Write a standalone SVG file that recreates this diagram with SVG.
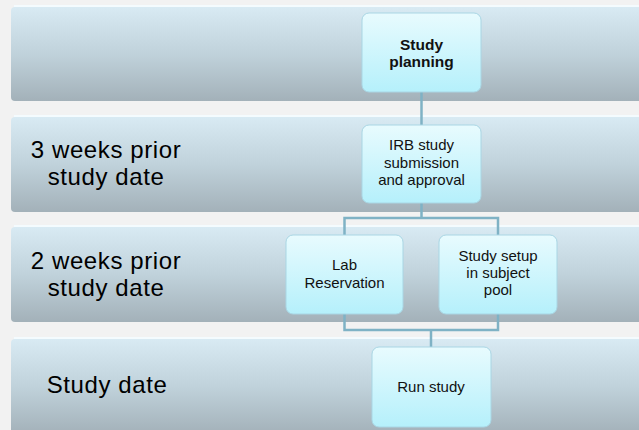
<svg xmlns="http://www.w3.org/2000/svg" width="639" height="430" viewBox="0 0 639 430">
<defs>
<linearGradient id="lane" x1="0" y1="0" x2="0" y2="1">
<stop offset="0" stop-color="#d8eaf3"/>
<stop offset="0.5" stop-color="#c0d2db"/>
<stop offset="1" stop-color="#a3b1b9"/>
</linearGradient>
<linearGradient id="node" x1="0" y1="0" x2="0" y2="1">
<stop offset="0" stop-color="#e8fbfe"/>
<stop offset="1" stop-color="#b5f0fb"/>
</linearGradient>
<style>
.lane{fill:url(#lane);}
.hl{fill:none;stroke:#f4fbfe;stroke-width:2;}
.box{fill:url(#node);stroke:#a9d6e4;stroke-width:1;}
.lbl{font-family:"Liberation Sans",Arial,sans-serif;font-size:24px;letter-spacing:0.6px;fill:#000;text-anchor:middle;}
.t{font-family:"Liberation Sans",Arial,sans-serif;font-size:15px;fill:#111;text-anchor:middle;}
.b{font-weight:bold;font-size:15.5px;}
.con{fill:none;stroke:#7fb2c5;stroke-width:2.5;}
</style>
</defs>
<rect width="639" height="430" fill="#f2f2f2"/>
<g id="lanes">
<g id="lane1"><rect class="lane" x="11" y="7" width="640" height="94" rx="4"/><line class="hl" x1="14" y1="6" x2="639" y2="6"/></g>
<g id="lane2"><rect class="lane" x="11" y="117" width="640" height="95" rx="4"/><line class="hl" x1="14" y1="116" x2="639" y2="116"/>
<text class="lbl" x="106" y="158">3 weeks prior</text><text class="lbl" x="106" y="185">study date</text></g>
<g id="lane3"><rect class="lane" x="11" y="227" width="640" height="95" rx="4"/><line class="hl" x1="14" y1="226" x2="639" y2="226"/>
<text class="lbl" x="106" y="269">2 weeks prior</text><text class="lbl" x="106" y="296">study date</text></g>
<g id="lane4"><rect class="lane" x="11" y="339" width="640" height="95" rx="4"/><line class="hl" x1="14" y1="338" x2="639" y2="338"/>
<text class="lbl" x="107" y="393">Study date</text></g>
</g>
<g id="connectors">
<path class="con" d="M421.5 92 V125"/>
<path class="con" d="M421.5 203 V218 M344.5 235 V218 H498 V235"/>
<path class="con" d="M344.5 314 V330 H498 V314 M431 330 V347"/>
</g>
<g id="n-planning"><rect class="box" x="362" y="13" width="119" height="79" rx="7"/>
<text class="t b" x="421.5" y="50">Study</text><text class="t b" x="421.5" y="67">planning</text></g>
<g id="n-irb"><rect class="box" x="362" y="125" width="119" height="78" rx="7"/>
<text class="t" x="421.5" y="150">IRB study</text><text class="t" x="421.5" y="168">submission</text><text class="t" x="421.5" y="185">and approval</text></g>
<g id="n-lab"><rect class="box" x="286" y="235" width="117" height="79" rx="7"/>
<text class="t" x="344.5" y="270">Lab</text><text class="t" x="344.5" y="288">Reservation</text></g>
<g id="n-setup"><rect class="box" x="439" y="235" width="118" height="79" rx="7"/>
<text class="t" x="498" y="261">Study setup</text><text class="t" x="498" y="278">in subject</text><text class="t" x="498" y="295">pool</text></g>
<g id="n-run"><rect class="box" x="372" y="347" width="119" height="80" rx="7"/>
<text class="t" x="431" y="392">Run study</text></g>
</svg>
